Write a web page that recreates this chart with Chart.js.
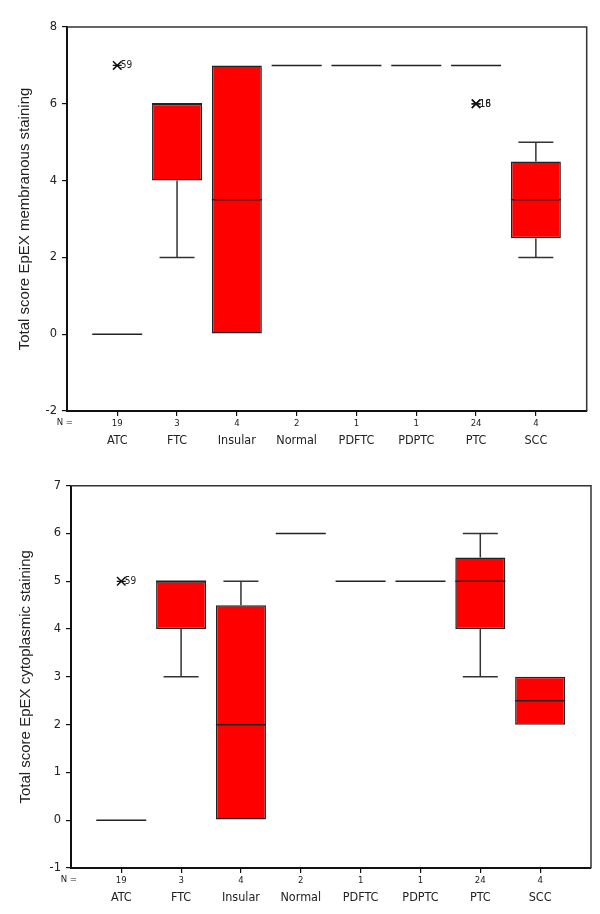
<!DOCTYPE html>
<html><head><meta charset="utf-8">
<script src="https://cdn.jsdelivr.net/npm/chart.js@4.4.0/dist/chart.umd.min.js"></script>
<style>
html,body{margin:0;padding:0;background:#fff;width:600px;height:914px;overflow:hidden}
.wrap{position:absolute;left:0;width:600px;height:457px}
canvas{display:block}
</style></head><body>
<div class="wrap" style="top:0"><canvas id="c1" width="600" height="457"></canvas></div>
<div class="wrap" style="top:457px"><canvas id="c2" width="600" height="457"></canvas></div>
<script>
const categories = ['ATC','FTC','Insular','Normal','PDFTC','PDPTC','PTC','SCC'];
const counts = [19, 3, 4, 2, 1, 1, 24, 4];

// Membranous staining
const memQ1     = [0, 4, 0,   7, 7, 7, 7, 2.5];
const memMedian = [0, 6, 3.5, 7, 7, 7, 7, 3.5];
const memQ3     = [0, 6, 7,   7, 7, 7, 7, 4.5];
const memLow    = [0, 2, 0,   7, 7, 7, 7, 2];
const memHigh   = [0, 6, 7,   7, 7, 7, 7, 5];
const memOutlierCats   = [0, 6, 6];
const memOutlierValues = [7, 6, 6];
const memOutlierLabels = ['59', '16', '18'];
const memTicks = [-2, 0, 2, 4, 6, 8];

// Cytoplasmic staining
const cytQ1     = [0, 4, 0,   6, 5, 5, 4,   2];
const cytMedian = [0, 5, 2,   6, 5, 5, 5,   2.5];
const cytQ3     = [0, 5, 4.5, 6, 5, 5, 5.5, 3];
const cytLow    = [0, 3, 0,   6, 5, 5, 3,   2];
const cytHigh   = [0, 5, 5,   6, 5, 5, 6,   3];
const cytOutlierCats   = [0];
const cytOutlierValues = [5];
const cytOutlierLabels = ['59'];
const cytTicks = [-1, 0, 1, 2, 3, 4, 5, 6, 7];

const INK = '#222';

const framePlugin = {
  id: 'frame',
  afterDraw(chart) {
    const {ctx, chartArea: a} = chart;
    ctx.save();
    ctx.strokeStyle = '#333';
    ctx.lineWidth = 1.5;
    ctx.beginPath();
    ctx.moveTo(a.left, a.top); ctx.lineTo(a.right, a.top); ctx.lineTo(a.right, a.bottom);
    ctx.stroke();
    const xs = chart.scales.x;
    ctx.fillStyle = INK;
    ctx.font = '9.5px "DejaVu Sans Condensed", "DejaVu Sans"';
    ctx.textAlign = 'right';
    ctx.textBaseline = 'middle';
    ctx.fillText('N =', a.left + chart.options.nLabelShift, xs.top + 11.5);
    const ds = chart.data.datasets;
    ds.forEach((d, di) => {
      if (!d.outlierLabels) return;
      const meta = chart.getDatasetMeta(di);
      ctx.textAlign = 'left';
      ctx.font = '10px "DejaVu Sans Condensed", "DejaVu Sans"';
      meta.data.forEach((pt, i) => {
        ctx.fillText(d.outlierLabels[i], pt.x + 3.5, pt.y + 0.5);
      });
    });
    ctx.restore();
  }
};

function zeroPad(s) { s.paddingLeft = 0; s.paddingRight = 0; s.paddingTop = 0; s.paddingBottom = 0; }

function build(id, q1, med, q3, lo, hi, oc, ov, ol, ticks, title, geo) {
  const boxes = categories.map((c, i) => ({x: i, y: q3[i] > q1[i] ? [q1[i], q3[i]] : null}));
  const medians = categories.map((c, i) => ({x: i, y: med[i]}));
  const stems = [];
  const caps = [];
  categories.forEach((c, i) => {
    if (lo[i] < q1[i]) { stems.push({x: i, y: lo[i]}, {x: i, y: q1[i]}, {x: i, y: null}); caps.push({x: i, y: lo[i]}); }
    if (hi[i] > q3[i]) { stems.push({x: i, y: q3[i]}, {x: i, y: hi[i]}, {x: i, y: null}); caps.push({x: i, y: hi[i]}); }
  });
  const outl = oc.map((c, i) => ({x: c, y: ov[i]}));

  return new Chart(document.getElementById(id), {
    type: 'bar',
    data: {
      datasets: [
        {type: 'line', data: stems, borderColor: '#333', borderWidth: 1.5, pointRadius: 0, spanGaps: false, order: 3},
        {type: 'scatter', data: caps, pointStyle: 'line', pointRadius: 17.5, pointBorderColor: '#333', pointBorderWidth: 1.5, order: 2},
        {type: 'bar', data: boxes, backgroundColor: '#ff0000', borderColor: INK, borderWidth: 1.5, borderSkipped: false,
         categoryPercentage: 0.836, barPercentage: 1, order: 1},
        {type: 'scatter', data: medians, pointStyle: 'line', pointRadius: 25, pointBorderColor: INK, pointBorderWidth: 1.5, order: 0},
        {type: 'scatter', data: outl, pointStyle: 'crossRot', pointRadius: 6, pointBorderColor: '#111', pointBorderWidth: 1.5, order: 0,
         outlierLabels: ol},
        {type: 'scatter', data: outl, pointStyle: 'line', pointRadius: 4.5, pointBorderColor: '#111', pointBorderWidth: 1.2, order: 0}
      ]
    },
    options: {
      responsive: false,
      animation: false,
      devicePixelRatio: 1,
      nLabelShift: geo.nShift,
      layout: {autoPadding: false, padding: {top: geo.top, right: geo.right, left: 0, bottom: 0}},
      plugins: {legend: {display: false}, tooltip: {enabled: false}},
      scales: {
        x: {
          type: 'linear', position: 'bottom', weight: 0, offset: false,
          min: -0.84, max: 7.85,
          afterBuildTicks: s => { s.ticks = categories.map((c, i) => ({value: i})); },
          afterFit: s => { s.height = 18; zeroPad(s); },
          ticks: {autoSkip: false, maxRotation: 0, padding: 2, color: INK,
                  font: {family: '"DejaVu Sans Condensed", "DejaVu Sans"', size: 9.5},
                  callback: v => String(counts[v])},
          grid: {drawOnChartArea: false, drawTicks: true, tickLength: 5, offset: false, color: '#111', lineWidth: 1.2},
          border: {display: true, color: '#111', width: 2}
        },
        x2: {
          type: 'linear', position: 'bottom', weight: 1, offset: false,
          min: -0.84, max: 7.85,
          afterBuildTicks: s => { s.ticks = categories.map((c, i) => ({value: i})); },
          afterFit: s => { s.height = 28; zeroPad(s); },
          ticks: {autoSkip: false, maxRotation: 0, padding: 4, color: INK,
                  font: {family: '"DejaVu Sans Condensed", "DejaVu Sans"', size: 12.5},
                  callback: v => categories[v]},
          grid: {display: false, drawTicks: false},
          border: {display: false}
        },
        y: {
          type: 'linear', position: 'left',
          min: ticks[0], max: ticks[ticks.length - 1],
          afterBuildTicks: s => { s.ticks = ticks.map(v => ({value: v})); },
          afterFit: s => { s.width = geo.left; zeroPad(s); },
          ticks: {padding: 5, color: INK, font: {family: '"DejaVu Sans"', size: 11.5}},
          grid: {drawOnChartArea: false, drawTicks: true, tickLength: 5, color: '#111', lineWidth: 1.2},
          border: {display: true, color: '#111', width: 2},
          title: {display: true, text: title, color: INK, padding: {top: geo.titlePad, bottom: 0},
                  font: {family: '"Liberation Sans", Arial', size: 15}}
        }
      }
    },
    plugins: [framePlugin]
  });
}

build('c1', memQ1, memMedian, memQ3, memLow, memHigh, memOutlierCats, memOutlierValues, memOutlierLabels, memTicks,
      'Total score EpEX membranous staining', {left: 67, top: 27, right: 13.3, titlePad: 16, nShift: 6});
build('c2', cytQ1, cytMedian, cytQ3, cytLow, cytHigh, cytOutlierCats, cytOutlierValues, cytOutlierLabels, cytTicks,
      'Total score EpEX cytoplasmic staining', {left: 71, top: 28.7, right: 9, titlePad: 17, nShift: 6});
</script>
</body></html>
